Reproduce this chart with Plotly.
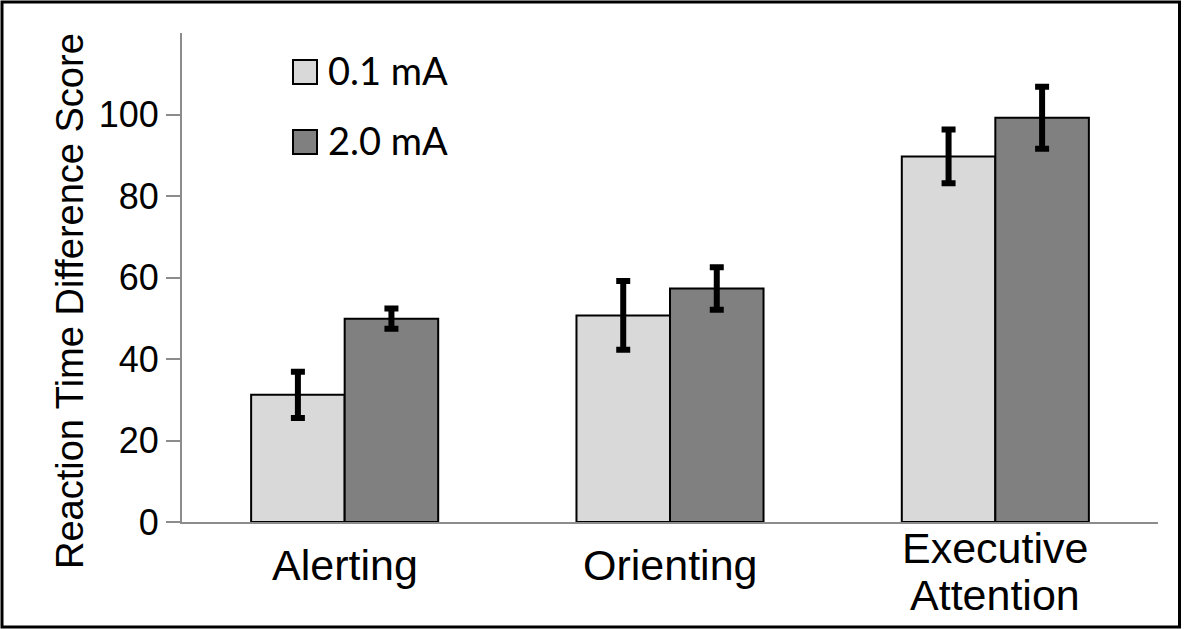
import plotly.graph_objects as go

categories = ["Alerting", "Orienting", "Executive\nAttention"]
series_names = ["0.1 mA", "2.0 mA"]
low_values = [31.2, 50.7, 89.7]
low_errors = [5.7, 8.45, 6.6]
high_values = [49.9, 57.3, 99.2]
high_errors = [2.5, 5.2, 7.6]
y_ticks = [0, 20, 40, 60, 80, 100]
y_title = "Reaction Time Difference Score"

colors = ["#d9d9d9", "#808080"]
W, H = 1200, 629
# plot area in window pixels
PL, PR, PT, PB = 182, 1158, 33, 522
pw, ph = PR - PL, PB - PT

def px_x(p):
    return (p - PL) / pw

def px_y(p):
    return (PB - p) / ph

fig = go.Figure()
for name, vals, errs, col in [(series_names[0], low_values, low_errors, colors[0]),
                              (series_names[1], high_values, high_errors, colors[1])]:
    fig.add_trace(go.Bar(
        x=list(range(len(categories))), y=vals, name=name,
        marker=dict(color=col, line=dict(color="black", width=2)),
        error_y=dict(type="data", array=errs, visible=True, color="black",
                     thickness=6, width=7),
        showlegend=False,
    ))

fig.update_layout(
    width=W, height=H,
    margin=dict(l=PL, r=W - PR, t=PT, b=H - PB, autoexpand=False),
    paper_bgcolor="white", plot_bgcolor="white",
    barmode="group", bargap=0.425, bargroupgap=0,
    font=dict(family="Liberation Sans, Arial, sans-serif", color="black"),
    xaxis=dict(range=[-0.5, len(categories) - 0.5], showticklabels=False,
               showline=True, linecolor="#8c8c8c", linewidth=2,
               ticks="", showgrid=False, zeroline=False, fixedrange=True),
    yaxis=dict(range=[0, 120], tickvals=y_ticks, ticktext=[str(v) for v in y_ticks],
               showline=True, linecolor="#8c8c8c", linewidth=2,
               ticks="outside", ticklen=14, tickwidth=2, tickcolor="#8c8c8c",
               tickfont=dict(size=36, color="black"), showgrid=False, zeroline=False),
)

annotations = []
# category labels
for i, cat in enumerate(categories):
    lines = cat.split("\n")
    n = len(lines)
    center = 43 + 6 * (n - 1)
    for j, line in enumerate(lines):
        offset = (j - (n - 1) / 2) * 47
        annotations.append(dict(
            x=i, xref="x", y=0, yref="paper", yanchor="middle", xanchor="center",
            yshift=-(center + offset), text=line, showarrow=False,
            font=dict(size=43, color="black"),
        ))
# y title
annotations.append(dict(
    x=px_x(70), xref="paper", y=px_y(301), yref="paper",
    xanchor="center", yanchor="middle", textangle=-90,
    text=y_title, showarrow=False, font=dict(size=38, color="black"),
))

shapes = []
# legend
for k, (name, col) in enumerate(zip(series_names, colors)):
    top = 60 + k * 70
    shapes.append(dict(type="rect", xref="paper", yref="paper",
                       x0=px_x(293), x1=px_x(317), y0=px_y(top + 24), y1=px_y(top),
                       fillcolor=col, line=dict(color="black", width=2)))
    annotations.append(dict(
        x=px_x(326), xref="paper", y=px_y(top + 10), yref="paper",
        xanchor="left", yanchor="middle", text=name, showarrow=False,
        font=dict(size=38, color="black", family="Lato, Open Sans, sans-serif"),
    ))
# outer border
shapes.append(dict(type="rect", xref="paper", yref="paper",
                   x0=px_x(2), x1=px_x(1179.5), y0=px_y(627), y1=px_y(2),
                   line=dict(color="black", width=3), fillcolor="rgba(0,0,0,0)",
                   layer="above"))

fig.update_layout(annotations=annotations, shapes=shapes)
fig.write_html("out.html", config={"displayModeBar": False},
               post_script="document.body.style.margin='0px';")
